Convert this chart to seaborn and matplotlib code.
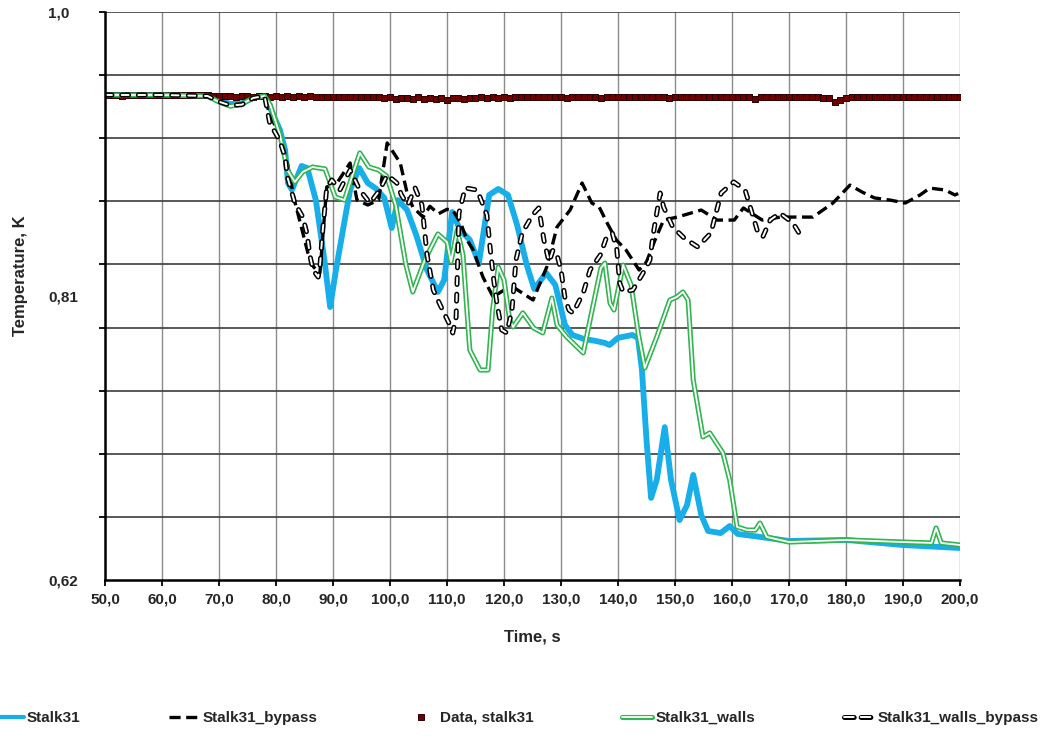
import numpy as np
import matplotlib
matplotlib.use("Agg")
import matplotlib.pyplot as plt
import seaborn as sns
from matplotlib.lines import Line2D
from matplotlib.legend_handler import HandlerTuple
from matplotlib.ticker import FixedLocator

# ---------------- data ----------------
t_stalk = [50, 60, 68, 70, 72, 74, 76, 78, 78.9, 80.7, 81.6, 82.1, 82.8, 84.5, 85.5, 87, 88.5, 89.5,
           90.5, 91.9, 93, 94.6, 96.1, 97.5, 99, 100.3, 101.4, 103, 104.6, 106.5, 108.4, 109.5, 110.9,
           112.3, 114, 115.6, 117.4, 119, 120.7, 122.3, 124, 125.3, 127.4, 129, 130.7, 132, 134, 136,
           137.7, 138.5, 140, 142.5, 143.5, 144.2, 145, 145.8, 146.8, 148.2, 149.3, 150.8, 152.1, 153.2,
           154.6, 155.8, 158, 159.6, 161, 165, 170, 180, 190, 200]
v_stalk = [0.9445, 0.9445, 0.9438, 0.9411, 0.9384, 0.939, 0.9425, 0.9438, 0.9364, 0.921, 0.9077, 0.8856,
           0.881, 0.897, 0.8956, 0.874, 0.834, 0.8026, 0.827, 0.8575, 0.881, 0.8956, 0.8856, 0.882, 0.8756,
           0.8555, 0.8742, 0.8675, 0.8508, 0.8274, 0.8127, 0.8207, 0.8662, 0.8542, 0.8475, 0.8321, 0.8776,
           0.8816, 0.8776, 0.8575, 0.8307, 0.8147, 0.8254, 0.8174, 0.7906, 0.7839, 0.7813, 0.78, 0.7786,
           0.7772, 0.782, 0.7839, 0.782, 0.7605, 0.7137, 0.6749, 0.687, 0.7223, 0.687, 0.6601, 0.670,
           0.6903, 0.6635, 0.6528, 0.6514, 0.6561, 0.6508, 0.6488, 0.6461, 0.6468, 0.6434, 0.6414]

t_bypass = [50, 60, 68, 70, 72, 74, 76, 78, 78.9, 80.7, 82, 83.1, 85.6, 86.6, 87.7, 88.9, 90.7, 93, 94.2,
            96.1, 98, 99.5, 101.8, 103, 104, 105.8, 107, 108.5, 110, 111, 112.4, 113.5, 114.6, 116.3,
            118.1, 120, 121.6, 125.1, 127.5, 129.3, 131.6, 133.7, 135.4, 136.7, 138.1, 139.7, 141.4,
            143.7, 145, 146.5, 148, 150.4, 154.6, 157.4, 160.4, 162, 165.3, 168.5, 170.2, 174.2, 177.7,
            180.7, 182.8, 185, 187.7, 190.4, 193, 194.7, 197.4, 199.1, 200]
v_bypass = [0.9445, 0.9445, 0.9438, 0.940, 0.9375, 0.938, 0.9425, 0.9438, 0.9311, 0.9177, 0.899, 0.8762,
            0.8388, 0.8294, 0.8254, 0.8829, 0.8856, 0.899, 0.8742, 0.8709, 0.8742, 0.9124, 0.899, 0.8789,
            0.8695, 0.8628, 0.870, 0.865, 0.868, 0.8675, 0.8588, 0.8475, 0.8408, 0.8227, 0.8093, 0.814,
            0.816, 0.8073, 0.8294, 0.8562, 0.8675, 0.8856, 0.8722, 0.8695, 0.8588, 0.8475, 0.8408, 0.8274,
            0.8328, 0.8475, 0.8608, 0.8628, 0.8675, 0.8608, 0.8608, 0.8689, 0.8608, 0.8628, 0.8628, 0.8628,
            0.8722, 0.8842, 0.8796, 0.8756, 0.8742, 0.8722, 0.8776, 0.8822, 0.8809, 0.8776, 0.879]

t_data = list(range(50, 201))
v_data = [0.9445, 0.9446, 0.9445, 0.9440, 0.9445, 0.9446, 0.9445, 0.9445, 0.9444, 0.9445,
          0.9445, 0.9446, 0.9445, 0.9445, 0.9443, 0.9445, 0.9444, 0.9445, 0.9443, 0.9440,
          0.9436, 0.9435, 0.9436, 0.9434, 0.9436, 0.9435, 0.9433, 0.9436, 0.9435, 0.9434,
          0.9436, 0.9433, 0.9435, 0.9434, 0.9436, 0.9431, 0.9435, 0.9433, 0.9434, 0.9430,
          0.9433, 0.9432, 0.9434, 0.9430, 0.9432, 0.9433, 0.9431, 0.9433, 0.9430, 0.9424,
          0.9428, 0.9418, 0.9425, 0.9427, 0.9415, 0.9428, 0.9420, 0.9426, 0.9416, 0.9425,
          0.9414, 0.9422, 0.9426, 0.9420, 0.9427, 0.9425, 0.9428, 0.9424, 0.9428, 0.9426,
          0.9429, 0.9427, 0.9430, 0.9428, 0.9431, 0.9429, 0.9432, 0.9430, 0.9431, 0.9428,
          0.9430, 0.9425, 0.9431, 0.9429, 0.9430, 0.9428, 0.9431, 0.9427, 0.9430, 0.9429,
          0.9428, 0.9430, 0.9431, 0.9429, 0.9430, 0.9428, 0.9431, 0.9429, 0.9430, 0.9427,
          0.9431, 0.9429, 0.9430, 0.9431, 0.9428, 0.9430, 0.9429, 0.9431, 0.9430, 0.9428,
          0.9429, 0.9431, 0.9428, 0.9430, 0.9415, 0.9429, 0.9430, 0.9428, 0.9431, 0.9429,
          0.9430, 0.9428, 0.9431, 0.9429, 0.9430, 0.9428, 0.9427, 0.9425, 0.9398, 0.9412,
          0.9422, 0.9428, 0.9430, 0.9429, 0.9431, 0.9429, 0.9430, 0.9428, 0.9431, 0.9429,
          0.9430, 0.9428, 0.9431, 0.9429, 0.9430, 0.9428, 0.9430, 0.9429, 0.9431, 0.9429,
          0.9430]

t_walls = [50, 60, 68, 70, 72, 74, 76, 78, 79, 80.7, 82, 83.3, 84.7, 86.4, 88.6, 90.4, 92, 93.3, 94.7,
           96.3, 98, 99.4, 101, 102.8, 104, 106.1, 108.4, 110, 110.7, 111.8, 112.8, 114, 115.8, 117.2,
           118, 119, 120, 121, 121.6, 123.3, 125.2, 126.8, 128.4, 129.3, 131, 133.9, 135.1, 137, 137.7,
           138.6, 139.3, 140.9, 142.3, 143.6, 144.7, 146.8, 149.1, 150.3, 151.4, 152.3, 153.2, 154.9,
           156.1, 158.4, 159.6, 160.9, 162.7, 164.1, 164.9, 166.1, 170, 180, 190, 195, 195.8, 196.7, 200]
v_walls = [0.9445, 0.9445, 0.9438, 0.9398, 0.937, 0.9384, 0.9425, 0.9438, 0.9378, 0.9177, 0.8943, 0.8863,
           0.893, 0.8963, 0.895, 0.8762, 0.8742, 0.8896, 0.9057, 0.8963, 0.8943, 0.8903, 0.8709, 0.8307,
           0.8127, 0.8341, 0.8515, 0.8461, 0.8328, 0.8542, 0.8374, 0.7739, 0.7605, 0.7605, 0.8006, 0.8294,
           0.8207, 0.794, 0.7893, 0.7987, 0.7886, 0.7853, 0.8086, 0.7906, 0.7826, 0.7719, 0.794, 0.8287,
           0.832, 0.8053, 0.8006, 0.8307, 0.8174, 0.7839, 0.7618, 0.7826, 0.8073, 0.8093, 0.8127, 0.8073,
           0.7538, 0.7157, 0.7184, 0.705, 0.6869, 0.6555, 0.6534, 0.6534, 0.6581, 0.6488, 0.6454, 0.6468,
           0.6454, 0.6448, 0.6548, 0.6448, 0.6434]

t_wbypass = [50, 60, 68, 70, 72, 74, 76, 78, 78.9, 80.6, 81.6, 82, 83.3, 84.7, 85.4, 86, 86.5, 87.4, 87.7,
             88.2, 88.9, 89.8, 91.2, 93, 94.7, 96.5, 98.2, 99.5, 101.2, 102, 103.1, 104.4, 105.6, 106.5,
             107.6, 108.8, 110.5, 111, 111.6, 112.1, 113.2, 115.3, 117, 117.6, 118.2, 118.8, 119.6, 120.5,
             121.4, 122.1, 123.2, 125, 126.1, 127, 127.9, 128.6, 129.3, 130, 130.7, 131.4, 132.1, 133.9,
             135.1, 136.9, 138, 139, 139.8, 140.3, 140.9, 142.6, 144.4, 145.6, 146.1, 146.8, 147.4, 148,
             149.6, 151.6, 154, 156.3, 158.1, 160.3, 162.3, 163.2, 164.4, 165.4, 166.7, 168.4, 170.7, 172.5]
v_wbypass = [0.9445, 0.9445, 0.9438, 0.940, 0.9375, 0.938, 0.9425, 0.9438, 0.9257, 0.9144, 0.903, 0.8896,
             0.8722, 0.8628, 0.8522, 0.8361, 0.8274, 0.8227, 0.8294, 0.8542, 0.8823, 0.8876, 0.8809, 0.8943,
             0.8809, 0.8722, 0.8809, 0.891, 0.8856, 0.8776, 0.8709, 0.8823, 0.8709, 0.8374, 0.814, 0.804,
             0.7906, 0.7853, 0.7959, 0.8655, 0.8823, 0.8809, 0.8642, 0.8408, 0.8207, 0.804, 0.7873, 0.7853,
             0.8006, 0.8341, 0.8522, 0.8642, 0.8689, 0.8475, 0.8327, 0.8408, 0.8374, 0.8274, 0.8086, 0.8006,
             0.7986, 0.812, 0.8274, 0.8374, 0.8495, 0.8522, 0.8408, 0.8187, 0.8127, 0.814, 0.8254, 0.8341,
             0.8495, 0.8655, 0.8789, 0.8695, 0.8562, 0.8488, 0.8428, 0.8522, 0.8789, 0.8863, 0.8809, 0.8695,
             0.8542, 0.8495, 0.8608, 0.8655, 0.8588, 0.8475]

labels = ["Stalk31", "Stalk31_bypass", "Data, stalk31", "Stalk31_walls", "Stalk31_walls_bypass"]
x_ticks = [50, 60, 70, 80, 90, 100, 110, 120, 130, 140, 150, 160, 170, 180, 190, 200]
x_ticklabels = ["50,0", "60,0", "70,0", "80,0", "90,0", "100,0", "110,0", "120,0", "130,0", "140,0",
                "150,0", "160,0", "170,0", "180,0", "190,0", "200,0"]
y_ticks = [0.62, 0.81, 1.0]
y_ticklabels = ["0,62", "0,81", "1,0"]

# ---------------- style ----------------
BLUE = "#17AEEA"
GREEN = "#33B552"
MAROON = "#6E0000"

sns.set_theme(style="white")
plt.rcParams['font.family'] = ['Liberation Sans', 'DejaVu Sans']
plt.rcParams['font.weight'] = 'bold'
plt.rcParams['lines.scale_dashes'] = False

fig = plt.figure(figsize=(10.44, 7.38), dpi=100)
ax = fig.add_axes([105 / 1044, 1 - 580 / 738, 855 / 1044, 568 / 738])

dash_solid = (0, (8, 4))
dash_outer = (0, (5, 7))

# Stalk31
sns.lineplot(x=t_stalk, y=v_stalk, ax=ax, color=BLUE, lw=4.2, estimator=None, sort=False, zorder=3)
# Stalk31_bypass
sns.lineplot(x=t_bypass, y=v_bypass, ax=ax, color="black", lw=2.4, linestyle=dash_solid,
             estimator=None, sort=False, zorder=4)
# Data
sns.scatterplot(x=t_data, y=v_data, ax=ax, marker="s", s=24, color=MAROON, edgecolor="#2a0000",
                linewidth=0.7, zorder=5)
# Stalk31_walls (double line)
sns.lineplot(x=t_walls, y=v_walls, ax=ax, color=GREEN, lw=3.7, estimator=None, sort=False, zorder=6)
sns.lineplot(x=t_walls, y=v_walls, ax=ax, color="white", lw=1.3, estimator=None, sort=False, zorder=6.1)
# Stalk31_walls_bypass (outlined dashes)
sns.lineplot(x=t_wbypass, y=v_wbypass, ax=ax, color="black", lw=3.6, linestyle=dash_outer,
             dash_capstyle="round", estimator=None, sort=False, zorder=7)
sns.lineplot(x=t_wbypass, y=v_wbypass, ax=ax, color="white", lw=1.4, linestyle=dash_outer,
             dash_capstyle="round", estimator=None, sort=False, zorder=7.1)

ax.set_xlim(50, 200)
ax.set_ylim(0.62, 1.0)

# ticks & grid
ax.set_xticks(x_ticks)
ax.set_xticklabels(x_ticklabels, fontsize=11, fontweight="bold")
ax.set_yticks(y_ticks)
ax.set_yticklabels(y_ticklabels, fontsize=11, fontweight="bold", ha="left")
ax.yaxis.remove_overlapping_locs = False
ax.yaxis.set_minor_locator(FixedLocator(np.linspace(0.62, 1.0, 10)[1:]))
ax.tick_params(axis="y", which="major", length=0, pad=41)
ax.tick_params(axis="y", which="minor", length=4, width=1.3, color="black", direction="out", left=True)
ax.tick_params(axis="x", which="major", length=4, width=1.3, color="black", direction="out",
               bottom=True, pad=5)
ax.grid(False)
ax.grid(which="minor", axis="y", color="#3c3c3c", lw=1.2)
ax.grid(which="major", axis="x", color="#8c8c8c", lw=1.0)

for side in ["top", "right"]:
    ax.spines[side].set_visible(False)
for side in ["left", "bottom"]:
    ax.spines[side].set_color("black")
    ax.spines[side].set_linewidth(1.8)
    ax.spines[side].set_zorder(8)

ax.set_xlabel("Time, s", fontsize=12, fontweight="bold")
ax.set_ylabel("Temperature, K", fontsize=12, fontweight="bold")
ax.xaxis.set_label_coords(0.5, -(629 - 580) / 568)
ax.yaxis.set_label_coords(-(105 - 28) / 855, (580 - 276) / 568)

# legend
h_stalk = Line2D([], [], color=BLUE, lw=3)
h_bypass = Line2D([], [], color="black", lw=2.4, linestyle=dash_solid)
h_data = Line2D([], [], ls="none", marker="s", ms=4.5, mfc=MAROON, mec="#2a0000", mew=0.7)
h_walls = (Line2D([], [], color=GREEN, lw=3.7, solid_capstyle="round"),
           Line2D([], [], color="white", lw=1.3, solid_capstyle="round"))
h_wb = (Line2D([], [], color="black", lw=3.6, linestyle=(0, (7, 5)), dash_capstyle="round"),
        Line2D([], [], color="white", lw=1.4, linestyle=(0, (7, 5)), dash_capstyle="round"))
fig.legend([h_stalk, h_bypass, h_data, h_walls, h_wb], labels,
           handler_map={tuple: HandlerTuple(ndivide=1, pad=0)},
           loc="center", bbox_to_anchor=(0.494, 1 - 718 / 738), ncol=5, frameon=False,
           prop={"size": 11, "weight": "bold"}, handlelength=2.0, handletextpad=0.2,
           columnspacing=5.8)

fig.savefig("out.png", dpi=100)
